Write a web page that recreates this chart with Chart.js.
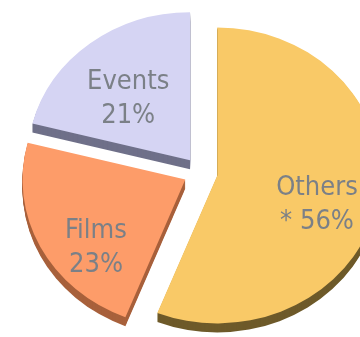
<!DOCTYPE html>
<html>
<head>
<meta charset="utf-8">
<script src="https://cdn.jsdelivr.net/npm/chart.js@4"></script>
<style>
  body { margin: 0; background: #fff; }
  #wrap { width: 360px; height: 337px; }
</style>
</head>
<body>
<div id="wrap"><canvas id="shareChart"></canvas></div>
<script>
const categories = ["Others", "Films", "Events"];
const shares = [56, 23, 21];
const shareNotes = ["* ", "", ""];

const topColors = ["#f9c967", "#fd9c69", "#d5d4f3"];
const sideColors = ["#6e5a2a", "#a8613c", "#6f7089"];

// fake 3d: horizontal stretch, slice pull-out and extrusion depth
const SX = 1.1;
const SHIFT = 15.5;
const DEPTH = 9;
// label place per slice: [fraction of radius, angle shift in degrees]
const labelPlace = [[0.66, 11], [0.75, -16], [0.53, -8]];

let shareChart;

const pie3d = {
  id: "pie3d",
  beforeDatasetsDraw(chart) {
    const ctx = chart.ctx;
    const arcs = chart.getDatasetMeta(0).data;
    const cx = arcs[0].x, cy = arcs[0].y;
    ctx.save();
    ctx.translate(cx, cy);
    ctx.scale(SX, 1);
    ctx.translate(-cx, -cy);

    // sides first
    arcs.forEach((arc, i) => {
      const mid = (arc.startAngle + arc.endAngle) / 2;
      const ox = Math.cos(mid) * SHIFT, oy = Math.sin(mid) * SHIFT;
      ctx.fillStyle = sideColors[i];
      for (let d = DEPTH; d > 0; d--) {
        ctx.beginPath();
        ctx.moveTo(arc.x + ox, arc.y + oy + d);
        ctx.arc(arc.x + ox, arc.y + oy + d, arc.outerRadius, arc.startAngle, arc.endAngle);
        ctx.closePath();
        ctx.fill();
      }
    });

    // then the top faces
    arcs.forEach((arc) => {
      const mid = (arc.startAngle + arc.endAngle) / 2;
      ctx.save();
      ctx.translate(Math.cos(mid) * SHIFT, Math.sin(mid) * SHIFT);
      arc.draw(ctx);
      ctx.restore();
    });

    ctx.restore();
    return false;
  },
  afterDraw(chart) {
    const ctx = chart.ctx;
    const arcs = chart.getDatasetMeta(0).data;
    ctx.save();
    ctx.font = "27px 'DejaVu Sans Condensed', 'DejaVu Sans', sans-serif";
    ctx.fillStyle = "#7b8087";
    ctx.textAlign = "center";
    ctx.textBaseline = "alphabetic";
    arcs.forEach((arc, i) => {
      const mid = (arc.startAngle + arc.endAngle) / 2;
      const a = mid + labelPlace[i][1] * Math.PI / 180;
      const r = arc.outerRadius * labelPlace[i][0];
      const x = arc.x + SX * (Math.cos(mid) * SHIFT + Math.cos(a) * r);
      const y = arc.y + Math.sin(mid) * SHIFT + Math.sin(a) * r;
      ctx.fillText(categories[i], x, y - 17);
      ctx.fillText(shareNotes[i] + shares[i] + "%", x, y + 17);
    });
    ctx.restore();
  },
};

const addShareChart = () => {
  let ctx = document.getElementById("shareChart").getContext("2d");

  shareChart = new Chart(ctx, {
    type: "pie",
    data: {
      labels: categories,
      datasets: [
        {
          data: shares,
          backgroundColor: topColors,
          borderWidth: 0,
        },
      ],
    },
    options: {
      responsive: true,
      maintainAspectRatio: false,
      animation: false,
      radius: 148,
      layout: {
        padding: { left: 41, top: 8, right: 0, bottom: 0 },
      },
      plugins: {
        legend: { display: false },
        tooltip: { enabled: false },
      },
    },
    plugins: [pie3d],
  });
};

addShareChart();
</script>
</body>
</html>
